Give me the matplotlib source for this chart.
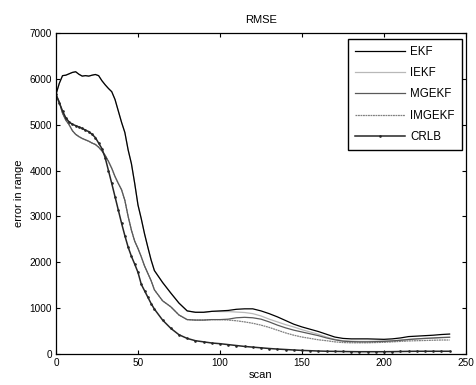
#!/usr/bin/env python3
import matplotlib
matplotlib.use('Agg')
import matplotlib.pyplot as plt

plt.rcParams['font.family'] = ['Liberation Sans', 'DejaVu Sans']

# scan grid: step 2 up to 60, then step 5
scan = list(range(0, 61, 2)) + list(range(65, 241, 5))

ekf = [5660, 5900, 6070, 6080, 6110, 6140, 6155, 6100, 6060, 6070,
       6060, 6080, 6095, 6070, 5960, 5870, 5790, 5720, 5550, 5300,
       5050, 4830, 4450, 4150, 3720, 3250, 2950, 2620, 2330, 2050,
       1820,
       1560, 1330, 1110, 940, 910, 910, 930, 940, 950, 975,
       985, 985, 940, 880, 810, 730, 650, 590, 540, 490,
       430, 370, 340, 330, 330, 330, 325, 320, 330, 350,
       380, 390, 400, 410, 425, 435]

iekf = ekf[:38] + [925, 925, 915, 905, 880, 830, 760, 700, 640, 590,
                   530, 480, 430, 370, 320, 290, 280, 275, 275, 280,
                   285, 290, 300, 320, 330, 340, 345, 355, 365]

mid = [5660, 5500, 5250, 5100, 5000, 4870, 4790, 4740, 4700, 4670,
       4640, 4600, 4570, 4510, 4430, 4330, 4200, 4050, 3870, 3720,
       3580, 3350, 3000, 2700, 2460, 2300, 2120, 1920, 1760, 1600,
       1400,
       1160, 1030, 850, 750, 740, 740, 750, 750]

mgekf = mid + [760, 790, 800, 790, 760, 700, 630, 570, 520,
               480, 440, 400, 350, 310, 280, 270, 265, 265, 270,
               275, 285, 300, 315, 330, 340, 350, 360, 365]

imgekf = mid + [740, 725, 700, 670, 630, 580, 520, 460, 410,
                370, 340, 310, 290, 265, 250, 245, 245, 245, 250,
                255, 265, 275, 285, 290, 295, 300, 305, 305]

crlb = [5660, 5480, 5300, 5150, 5060, 5010, 4980, 4950, 4920, 4880,
        4850, 4790, 4720, 4600, 4480, 4280, 4000, 3720, 3430, 3140,
        2850, 2580, 2330, 2130, 1960, 1780, 1520, 1380, 1240, 1100,
        980,
        740, 560, 420, 340, 290, 265, 240, 225, 205, 185,
        165, 150, 135, 120, 108, 98, 88, 78, 72, 65,
        60, 58, 55, 52, 50, 50, 50, 50, 52, 55,
        58, 60, 60, 60, 60, 60]

fig = plt.figure(figsize=(4.76, 3.85), dpi=100)
ax = fig.add_axes([0.1176, 0.0805, 0.8614, 0.8338])

ax.plot(scan, iekf, color='0.72', lw=0.9, label='IEKF')
ax.plot(scan, ekf, color='black', lw=0.9, label='EKF')
ax.plot(scan, imgekf, color='0.5', lw=0.9, ls=(0, (1.5, 0.5)), label='IMGEKF')
ax.plot(scan, mgekf, color='0.35', lw=0.9, label='MGEKF')
ax.plot(scan, crlb, color='0.15', lw=1.1, marker='.', markersize=1.8,
        label='CRLB')

ax.set_xlim(0, 250)
ax.set_ylim(0, 7000)
ax.set_xticks(range(0, 251, 50))
ax.set_yticks(range(0, 7001, 1000))
ax.tick_params(direction='in', length=3, width=0.8, top=True, right=True,
               labelsize=7.2, pad=3)
for s in ax.spines.values():
    s.set_linewidth(0.9)

ax.set_title('RMSE', fontsize=8, pad=7)
ax.set_xlabel('scan', fontsize=8, labelpad=1)
ax.set_ylabel('error in range', fontsize=8, labelpad=4)

h, l = ax.get_legend_handles_labels()
order = ['EKF', 'IEKF', 'MGEKF', 'IMGEKF', 'CRLB']
hd = dict(zip(l, h))
leg = ax.legend([hd[k] for k in order], order, loc='upper right',
                bbox_to_anchor=(0.99, 0.981), fontsize=8.3, fancybox=False,
                framealpha=1, edgecolor='black', handlelength=4.3,
                handletextpad=0.5, labelspacing=0.8, borderpad=0.6,
                borderaxespad=0)
leg.get_frame().set_linewidth(1.0)

plt.savefig('out.png', dpi=100)
